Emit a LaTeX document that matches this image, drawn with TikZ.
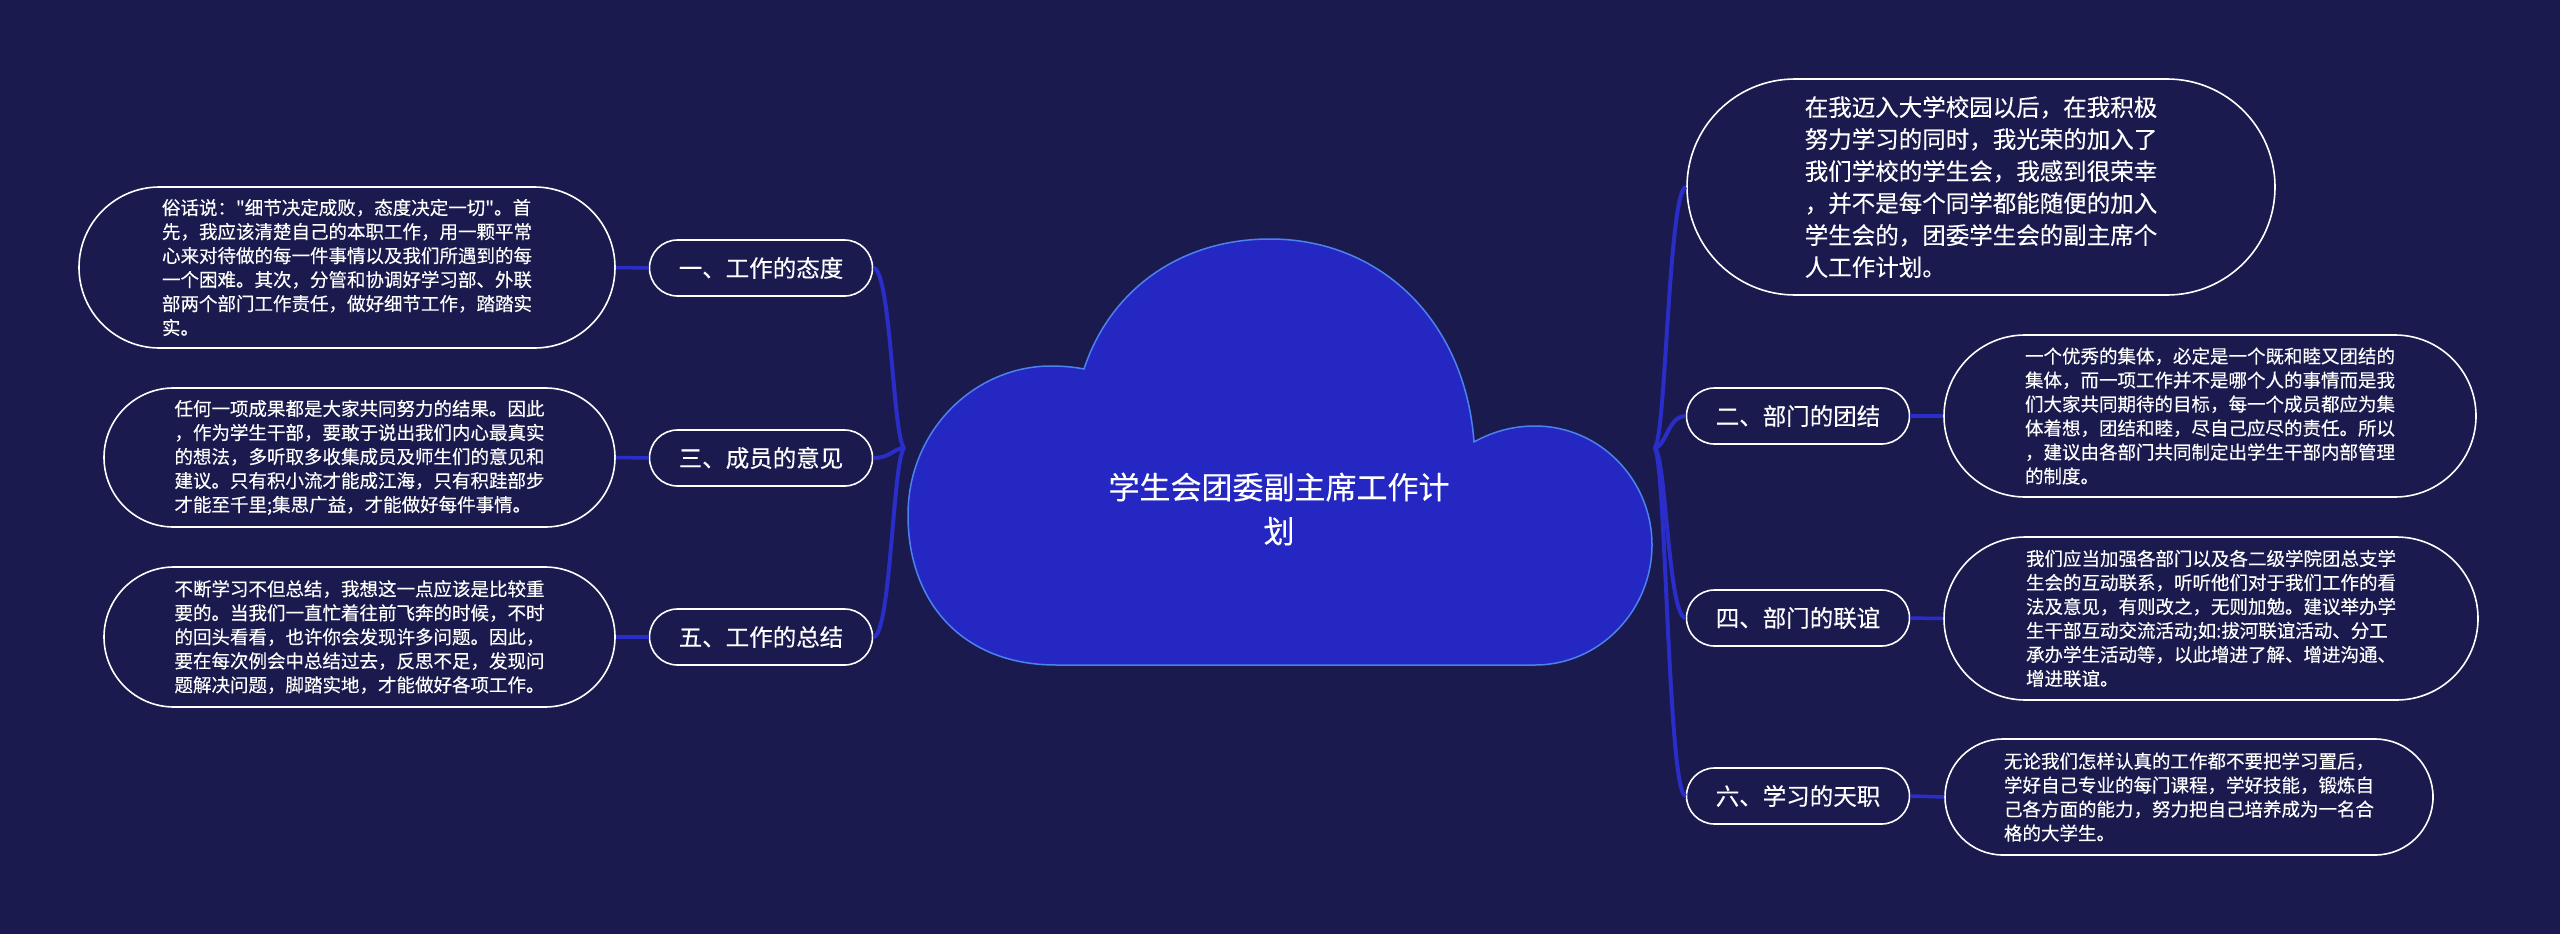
\documentclass[tikz,border=0pt]{standalone}
\usepackage{fontspec}
\setmainfont{Noto Sans CJK SC}[Ligatures=TeXOff, FakeBold=0.3]
\usetikzlibrary{shapes.misc}
\definecolor{bg}{HTML}{1A1A4F}
\definecolor{cloudfill}{HTML}{2427C2}
\definecolor{cloudline}{HTML}{4B82F0}
\definecolor{link}{HTML}{2A2DC8}
\begin{document}
\begin{tikzpicture}[x=1pt,y=-1pt,
  leaf/.style={rounded rectangle, draw=white, line width=1.6pt, fill=bg, text=white,
    align=left, font=\fontsize{18.5}{24}\selectfont, inner sep=0pt},
  topic/.style={rounded rectangle, draw=white, line width=1.6pt, fill=bg, text=white,
    font=\fontsize{23.5}{30}\selectfont, minimum width=223pt, minimum height=56pt, inner sep=0pt},
  trunk/.style={draw=link, line width=4pt},
  twig/.style={draw=link, line width=3.5pt}]
\fill[bg] (0,0) rectangle (2560,934);
\useasboundingbox (0,0) rectangle (2560,934);

% topics
\node[topic] (t1) at (761,268) {一、工作的态度};
\node[topic] (t3) at (761,458) {三、成员的意见};
\node[topic] (t5) at (761,637) {五、工作的总结};
\node[topic] (t2) at (1798,416) {二、部门的团结};
\node[topic] (t4) at (1798,618) {四、部门的联谊};
\node[topic] (t6) at (1798,796) {六、学习的天职};

% leaves
\node[leaf, minimum width=536pt, minimum height=161pt] (l1) at (347,267.5) {俗话说："细节决定成败，态度决定一切"。首\\先，我应该清楚自己的本职工作，用一颗平常\\心来对待做的每一件事情以及我们所遇到的每\\一个困难。其次，分管和协调好学习部、外联\\部两个部门工作责任，做好细节工作，踏踏实\\实。};
\node[leaf, minimum width=511pt, minimum height=139pt] (l3) at (359.5,457.5) {任何一项成果都是大家共同努力的结果。因此\\，作为学生干部，要敢于说出我们内心最真实\\的想法，多听取多收集成员及师生们的意见和\\建议。只有积小流才能成江海，只有积跬部步\\才能至千里;集思广益，才能做好每件事情。};
\node[leaf, minimum width=511pt, minimum height=140pt] (l5) at (359.5,637) {不断学习不但总结，我想这一点应该是比较重\\要的。当我们一直忙着往前飞奔的时候，不时\\的回头看看，也许你会发现许多问题。因此，\\要在每次例会中总结过去，反思不足，发现问\\题解决问题，脚踏实地，才能做好各项工作。};
\node[leaf, font=\fontsize{23.5}{32}\selectfont, minimum width=588pt, minimum height=216pt] (l0) at (1981,187) {在我迈入大学校园以后，在我积极\\努力学习的同时，我光荣的加入了\\我们学校的学生会，我感到很荣幸\\，并不是每个同学都能随便的加入\\学生会的，团委学生会的副主席个\\人工作计划。};
\node[leaf, minimum width=532pt, minimum height=162pt] (l2) at (2210,416) {一个优秀的集体，必定是一个既和睦又团结的\\集体，而一项工作并不是哪个人的事情而是我\\们大家共同期待的目标，每一个成员都应为集\\体着想，团结和睦，尽自己应尽的责任。所以\\，建议由各部门共同制定出学生干部内部管理\\的制度。};
\node[leaf, minimum width=534pt, minimum height=163pt] (l4) at (2211,618.5) {我们应当加强各部门以及各二级学院团总支学\\生会的互动联系，听听他们对于我们工作的看\\法及意见，有则改之，无则加勉。建议举办学\\生干部互动交流活动;如:拔河联谊活动、分工\\承办学生活动等，以此增进了解、增进沟通、\\增进联谊。};
\node[leaf, minimum width=488pt, minimum height=116pt] (l6) at (2189,797) {无论我们怎样认真的工作都不要把学习置后，\\学好自己专业的每门课程，学好技能，锻炼自\\己各方面的能力，努力把自己培养成为一名合\\格的大学生。};

% junctions
\coordinate (jl) at (905,448);
\coordinate (jr) at (1654,448);

% connectors
\draw[trunk] (jl) .. controls +(-12,0) and +(18,0) .. (t1.east);
\draw[trunk] (jl) .. controls +(-12,0) and +(18,0) .. (t3.east);
\draw[trunk] (jl) .. controls +(-12,0) and +(18,0) .. (t5.east);
\draw[trunk] (jr) .. controls +(12,0) and +(-18,0) .. (l0.west);
\draw[trunk] (jr) .. controls +(12,0) and +(-18,0) .. (t2.west);
\draw[trunk] (jr) .. controls +(12,0) and +(-18,0) .. (t4.west);
\draw[trunk] (jr) .. controls +(12,0) and +(-18,0) .. (t6.west);
\draw[twig] (t1.west) -- (l1.east);
\draw[twig] (t3.west) -- (l3.east);
\draw[twig] (t5.west) -- (l5.east);
\draw[twig] (t2.east) -- (l2.west);
\draw[twig] (t4.east) -- (l4.west);
\draw[twig] (t6.east) -- (l6.west);

% cloud
\draw[fill=cloudfill, draw=cloudline, line width=1.5pt]
  (1056,665) .. controls (965,665) and (908,605) .. (908,515)
  .. controls (908,430) and (975,366) .. (1051,366)
  .. controls (1062,366) and (1074,367) .. (1084,369)
  .. controls (1110,290) and (1180,239) .. (1270,239)
  .. controls (1380,239) and (1465,320) .. (1474,442)
  .. controls (1492,432) and (1512,426) .. (1535,426)
  .. controls (1600,426) and (1652,480) .. (1652,545)
  .. controls (1652,610) and (1600,665) .. (1535,665)
  -- cycle;
\node[text=white, font=\fontsize{31}{44}\selectfont, align=center] (title) at (1279,509) {学生会团委副主席工作计\\划};
\end{tikzpicture}
\end{document}
